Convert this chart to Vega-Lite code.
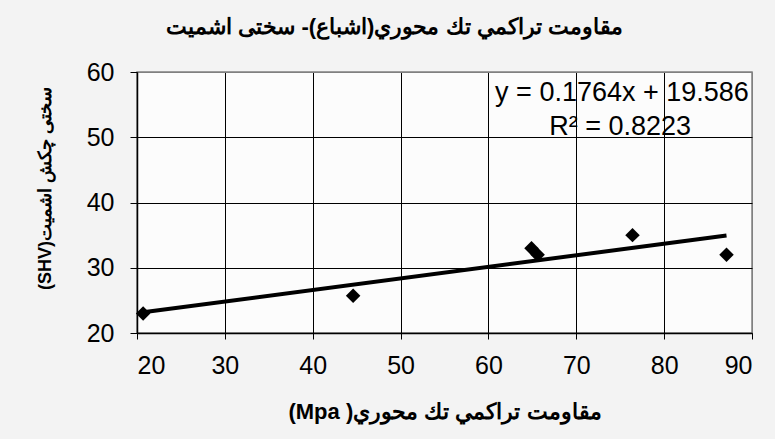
{
  "$schema": "https://vega.github.io/schema/vega-lite/v6.json",
  "width": 615,
  "height": 261,
  "autosize": {"type": "none"},
  "padding": {"left": 137, "top": 72, "right": 23, "bottom": 106},
  "background": "#f3f3f3",
  "title": {
    "text": "مقاومت تراكمي تك محوري(اشباع)- سختى اشميت",
    "font": "Liberation Sans",
    "fontSize": 22,
    "fontWeight": "bold",
    "color": "#000000",
    "anchor": "middle",
    "dx": -50,
    "offset": 21
  },
  "config": {
    "view": {"fill": "#fcfcfc", "stroke": "#808080", "strokeWidth": 1.5},
    "axis": {
      "labelFont": "Liberation Sans",
      "labelFontSize": 25,
      "labelColor": "#000000",
      "titleFont": "Liberation Sans",
      "titleFontWeight": "bold",
      "titleColor": "#000000",
      "domainColor": "#000000",
      "domainWidth": 1.5,
      "tickColor": "#000000",
      "tickWidth": 1,
      "gridWidth": 1,
      "gridOpacity": 1
    }
  },
  "datasets": {
    "points": [
      {"mpa": 20.7, "shv": 23},
      {"mpa": 44.6, "shv": 25.7},
      {"mpa": 64.9, "shv": 33},
      {"mpa": 65.6, "shv": 32},
      {"mpa": 76.4, "shv": 35},
      {"mpa": 87.1, "shv": 32}
    ],
    "labels": [
      {"text": "y = 0.1764x + 19.586", "mpa": 75.2, "shv": 56.8},
      {"text": "R² = 0.8223", "mpa": 75.0, "shv": 51.6}
    ]
  },
  "layer": [
    {
      "data": {"name": "points"},
      "mark": {"type": "point", "shape": "diamond", "filled": true, "size": 210, "color": "#000000", "opacity": 1},
      "encoding": {
        "x": {
          "field": "mpa", "type": "quantitative",
          "scale": {"domain": [20, 90], "nice": false, "zero": false},
          "axis": {
            "values": [20, 30, 40, 50, 60, 70, 80, 90],
            "title": "(Mpa )‎مقاومت تراكمي تك محوري",
            "titleFontSize": 22,
            "tickSize": 6,
            "labelPadding": 14,
            "titlePadding": 23,
            "gridColor": {"condition": {"test": "datum.value == 90", "value": "#808080"}, "value": "#000000"}
          }
        },
        "y": {
          "field": "shv", "type": "quantitative",
          "scale": {"domain": [20, 60], "nice": false, "zero": false},
          "axis": {
            "values": [20, 30, 40, 50, 60],
            "title": "(SHV)‎سختى چكش اشميت",
            "titleFontSize": 18,
            "titleY": 116,
            "tickSize": 7,
            "labelPadding": 16,
            "titlePadding": 32,
            "gridColor": {"condition": {"test": "datum.value == 60", "value": "#808080"}, "value": "#000000"}
          }
        }
      }
    },
    {
      "data": {"name": "points"},
      "transform": [{"regression": "shv", "on": "mpa"}],
      "mark": {"type": "line", "color": "#000000", "strokeWidth": 4},
      "encoding": {
        "x": {"field": "mpa", "type": "quantitative"},
        "y": {"field": "shv", "type": "quantitative"}
      }
    },
    {
      "data": {"name": "labels"},
      "mark": {"type": "text", "font": "Liberation Sans", "fontSize": 27, "color": "#000000", "align": "center", "baseline": "middle"},
      "encoding": {
        "x": {"field": "mpa", "type": "quantitative"},
        "y": {"field": "shv", "type": "quantitative"},
        "text": {"field": "text"}
      }
    }
  ]
}
